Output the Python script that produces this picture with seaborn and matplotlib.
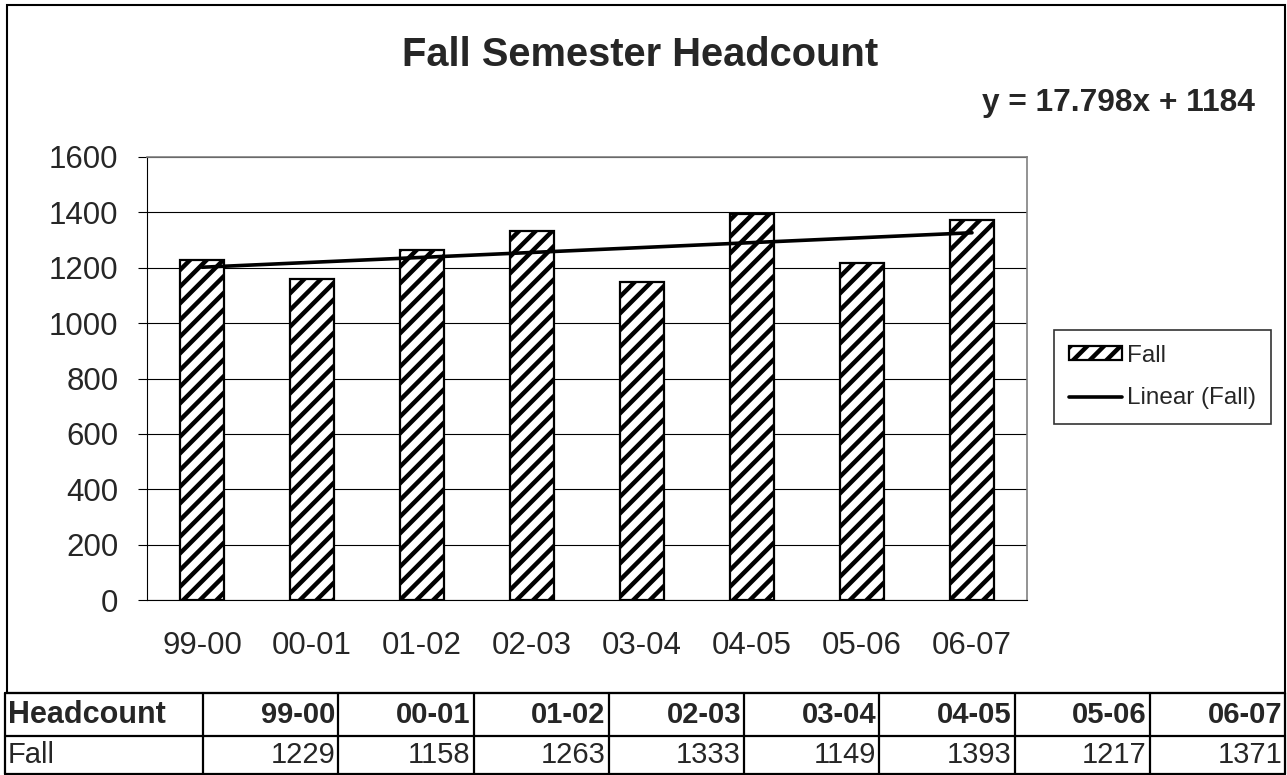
import numpy as np
import pandas as pd
import seaborn as sns
import matplotlib.pyplot as plt
from matplotlib.lines import Line2D
from matplotlib.patches import Rectangle, Patch

# Data
years = ["99-00", "00-01", "01-02", "02-03", "03-04", "04-05", "05-06", "06-07"]
fall = [1229, 1158, 1263, 1333, 1149, 1393, 1217, 1371]
y_ticks = [0, 200, 400, 600, 800, 1000, 1200, 1400, 1600]

sns.set_style("white")
plt.rcParams["font.family"] = ["Liberation Sans", "DejaVu Sans"]
plt.rcParams["hatch.linewidth"] = 3.2
plt.rcParams["hatch.color"] = "black"

W, H = 1287, 775
fig = plt.figure(figsize=(W / 100, H / 100), dpi=100)


def fx(px):
    return px / W


def fy(py):
    return 1 - py / H


# plot area
ax = fig.add_axes([fx(147), fy(600), fx(1027) - fx(147), fy(157) - fy(600)])
df = pd.DataFrame({"year": years, "Fall": fall})
sns.barplot(data=df, x="year", y="Fall", ax=ax, color="white", saturation=1,
            edgecolor="black", linewidth=1.6, width=0.4, hatch="//")

# linear trend line, like Excel
xs = np.arange(1, len(fall) + 1)
slope, intercept = np.polyfit(xs, fall, 1)
trend = slope * xs + intercept
ax.plot(np.arange(len(fall)), trend, color="black", linewidth=2.6, zorder=5)

ax.set_xlim(-0.5, len(years) - 0.5)
ax.set_ylim(y_ticks[0], y_ticks[-1])
ax.set_yticks(y_ticks)
ax.set_xticks(range(len(years)))
ax.set_xticklabels(years)
ax.set_xticks(np.arange(-0.5, len(years)), minor=True)
ax.set_xlabel("")
ax.set_ylabel("")
ax.yaxis.grid(True, color="black", linewidth=0.8)
ax.set_axisbelow(True)

ax.tick_params(axis="x", which="major", length=0, labelsize=22.5, pad=22)
ax.tick_params(axis="x", which="minor", length=6.5, width=0.8, direction="out", color="black")
ax.tick_params(axis="y", length=6.5, width=0.8, direction="out", color="black",
               labelsize=22.5, pad=14, left=True)

for side in ["top", "right"]:
    ax.spines[side].set_color("#808080")
    ax.spines[side].set_linewidth(1.2)
for side in ["left", "bottom"]:
    ax.spines[side].set_color("black")
    ax.spines[side].set_linewidth(0.8)

# titles
fig.text(fx(640), fy(55), "Fall Semester Headcount", fontsize=28.7, fontweight="bold",
         ha="center", va="center")
fig.text(fx(1255), fy(103), f"y = {slope:.3f}x + {intercept:.0f}", fontsize=22.8,
         fontweight="bold", ha="right", va="center")

# legend
handles = [Patch(facecolor="white", edgecolor="black", hatch="//", linewidth=1.6, label="Fall"),
           Line2D([0], [0], color="black", linewidth=2.6, label="Linear (Fall)")]
fig.legend(handles=handles, loc="center left", bbox_to_anchor=(fx(1054), fy(377)),
           fontsize=17.5, frameon=True, fancybox=False, edgecolor="black",
           handlelength=2.2, handleheight=0.5, handletextpad=0.2,
           labelspacing=0.85, borderpad=0.6, borderaxespad=0)
fig.legends[0].get_frame().set_linewidth(1.2)

# outer chart border
fig.add_artist(Rectangle((fx(7), fy(693)), fx(1285) - fx(7), fy(5) - fy(693),
                         transform=fig.transFigure, fill=False, edgecolor="black", linewidth=1.5))

# data table below the chart
row_y = [693, 736, 774]
col_x = [5, 203] + [203 + (1285 - 203) / 8 * (i + 1) for i in range(8)]
for y in row_y:
    fig.add_artist(Line2D([fx(col_x[0]), fx(col_x[-1])], [fy(y), fy(y)],
                          transform=fig.transFigure, color="black", linewidth=1.6))
for x in col_x:
    fig.add_artist(Line2D([fx(x), fx(x)], [fy(row_y[0]), fy(row_y[-1])],
                          transform=fig.transFigure, color="black", linewidth=1.6))

fig.text(fx(8), fy(715), "Headcount", fontsize=22, fontweight="bold", ha="left", va="center")
fig.text(fx(8), fy(755), "Fall", fontsize=21, ha="left", va="center")
for i, (yr, v) in enumerate(zip(years, fall)):
    right = col_x[i + 2] - 3
    fig.text(fx(right), fy(715), yr, fontsize=21, fontweight="bold", ha="right", va="center")
    fig.text(fx(right), fy(755), str(v), fontsize=21, ha="right", va="center")

plt.savefig("out.png", dpi=100)
plt.close()
